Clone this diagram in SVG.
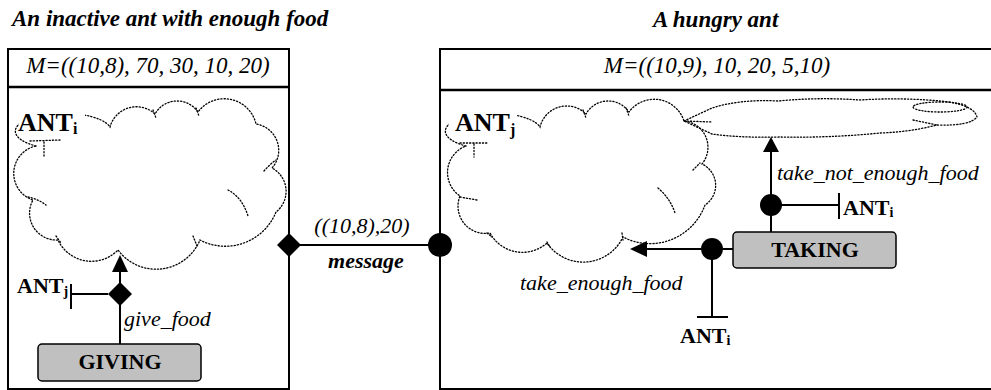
<svg xmlns="http://www.w3.org/2000/svg" width="991" height="390" viewBox="0 0 991 390" font-family="Liberation Serif, Times New Roman, serif">
<defs>
<style>
.box{fill:none;stroke:#000;stroke-width:2}
.div{stroke:#000;stroke-width:2.5}
.cloud{fill:none;stroke:#000;stroke-width:1.3;stroke-dasharray:1.2 2;stroke-linecap:round}
.ln{stroke:#000;stroke-width:2;fill:none}
.state{fill:#c0c0c0;stroke:#000;stroke-width:1.5}
.blk{fill:#000}
text{font-family:'Liberation Serif','Times New Roman',serif;fill:#000}
.it{font-style:italic;font-size:22px}
.hd{font-style:italic;font-size:23px}
.ttl{font-style:italic;font-weight:bold;font-size:23px}
.b{font-weight:bold;font-size:22px}
.big{font-weight:bold;font-size:26px}
.mask{fill:#fff}
</style>
</defs>
<rect width="991" height="390" fill="#fff"/>

<g id="titles">
<text class="ttl" x="12" y="26">An inactive ant with enough food</text>
<text class="ttl" x="653" y="27">A hungry ant</text>
</g>

<g id="inactive-ant">
<rect class="box" x="8" y="49" width="281" height="340"/>
<line class="div" x1="8" y1="87" x2="289" y2="87"/>
<text class="hd" x="148" y="73" text-anchor="middle">M=((10,8), 70, 30, 10, 20)</text>
</g>

<g id="hungry-ant">
<rect class="box" x="440" y="49" width="553" height="340"/>
<line class="div" x1="440" y1="90" x2="993" y2="90"/>
<text class="hd" x="717" y="73" text-anchor="middle">M=((10,9), 10, 20, 5,10)</text>
</g>

<g id="cloud-ANTi">
<path class="cloud" d="M36,146 A48,18 0 1 1 110,127 A27.4,27.4 0 0 1 155,114 A25.3,25.3 0 0 1 198,112 A32.6,32.6 0 0 1 256,124 A26.6,26.6 0 0 1 272,168 A26.3,26.3 0 0 1 276,212 A54.6,54.6 0 0 1 200,240 A47.5,47.5 0 0 1 118,250 A36.9,36.9 0 0 1 58,240 A26.9,26.9 0 0 1 33,200 A28,28 0 0 1 36,146 Z"/>
<path class="cloud" d="M30,141 L60,140 M44,142 L44,156 M153,110 L156,118 M196,108 L199,116 M228,190 Q242,197 248,216 M264,171 Q270,164 276,160 M28,197 Q38,199 46,205 M56,236 L61,243 M193,236 L197,246"/>
<rect class="mask" x="19" y="109" width="66" height="28"/>
<text class="big" x="18" y="131">ANT<tspan font-size="16" dy="3">i</tspan></text>
</g>

<g id="cloud-ANTj">
<path class="cloud" d="M466,146 A48,18 0 1 1 540,127 A27.4,27.4 0 0 1 586,114 A25.3,25.3 0 0 1 629,112 A31.3,31.3 0 0 1 684,121 A26.4,26.4 0 0 1 702,164 A23.5,23.5 0 0 1 705,205 A58.4,58.4 0 0 1 623,237 A44,44 0 0 1 547,243 A36.9,36.9 0 0 1 490,233 A27.2,27.2 0 0 1 460,196 A28.3,28.3 0 0 1 466,146 Z"/>
<path class="cloud" d="M460,143 L487,143 M474,144 L474,157 M583,110 L586,118 M626,108 L629,116 M658,188 Q670,198 675,213 M693,170 L700,163 M460,197 L477,200 M487,233 L492,237 M547,242 L550,247 M622,233 L623,240"/>
<rect class="mask" x="449" y="109" width="68" height="28"/>
<text class="big" x="455" y="131">ANT<tspan font-size="16" dy="4">j</tspan></text>
</g>

<g id="cloud-hungry">
<path class="cloud" d="M684,121 L712,108 Q740,99 778,101 Q820,97 860,100 Q905,97 950,102 Q975,107 977,117 Q970,126 937,125 Q910,132 880,133 Q830,138 780,137 Q740,138 712,134 Z M684,121 L712,122 M913,120 L937,125"/>
<ellipse class="cloud" cx="940" cy="107" rx="27" ry="5"/>
</g>

<g id="GIVING">
<rect class="state" x="38" y="344" width="163" height="37" rx="4"/>
<text class="b" x="120" y="369" text-anchor="middle">GIVING</text>
</g>

<g id="TAKING">
<rect class="state" x="733" y="232" width="163" height="36" rx="4"/>
<text class="b" x="815" y="257" text-anchor="middle">TAKING</text>
</g>

<g id="connectors">
<line class="ln" x1="289" y1="245" x2="440" y2="245"/>
<polygon class="blk" points="289,233 301,245 289,257 277,245"/>
<circle class="blk" cx="440" cy="245" r="12"/>
<text class="it" x="362" y="233" text-anchor="middle">((10,8),20)</text>
<text class="ttl" style="font-size:22px" x="366" y="268" text-anchor="middle">message</text>

<line class="ln" x1="120" y1="344" x2="120" y2="270"/>
<polygon class="blk" points="120,255 112,272 128,272"/>
<polygon class="blk" points="120,282 132,294 120,306 108,294"/>
<line class="ln" x1="108" y1="294" x2="71" y2="294"/>
<line class="ln" x1="71" y1="284" x2="71" y2="309"/>
<text class="b" x="17" y="293">ANT<tspan font-size="14" dy="3">j</tspan></text>
<text class="it" x="124" y="326">give_food</text>

<line class="ln" x1="771" y1="232" x2="771" y2="150"/>
<polygon class="blk" points="771,137 763,152 779,152"/>
<circle class="blk" cx="771" cy="205" r="11"/>
<line class="ln" x1="771" y1="205" x2="839" y2="205"/>
<line class="ln" x1="839" y1="193" x2="839" y2="219"/>
<text class="b" x="843" y="215">ANT<tspan font-size="14" dy="2">i</tspan></text>
<text class="it" x="777" y="180">take_not_enough_food</text>

<line class="ln" x1="733" y1="249" x2="645" y2="249"/>
<polygon class="blk" points="630,249 647,241 647,257"/>
<circle class="blk" cx="712" cy="249" r="11"/>
<line class="ln" x1="712" y1="249" x2="712" y2="317"/>
<line class="ln" x1="697" y1="317" x2="728" y2="317"/>
<text class="b" x="680" y="343">ANT<tspan font-size="14" dy="2">i</tspan></text>
<text class="it" x="520" y="290">take_enough_food</text>
</g>
</svg>
